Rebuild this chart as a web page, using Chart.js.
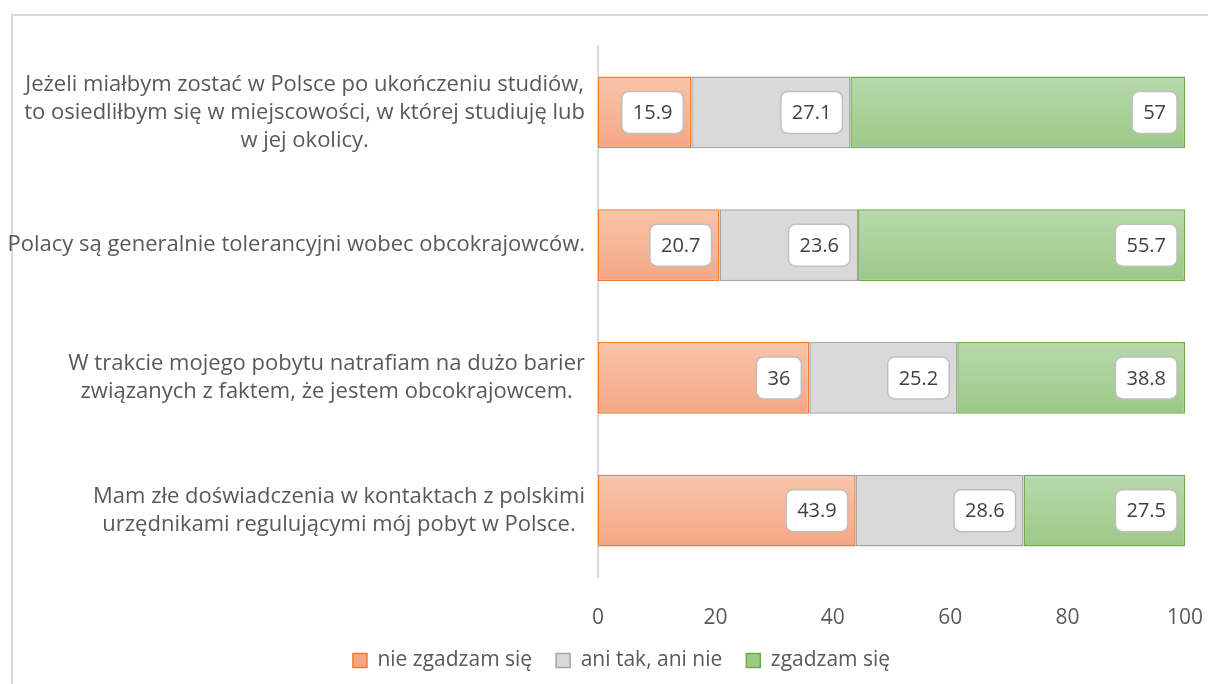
<!DOCTYPE html>
<html>
<head>
<meta charset="utf-8">
<script src="https://cdn.jsdelivr.net/npm/chart.js@4.4.1/dist/chart.umd.min.js"></script>
<style>
  html, body { margin: 0; padding: 0; background: #fff; overflow: hidden; }
  #frame { position: absolute; left: 11px; top: 14px; width: 1300px; height: 800px; border: 2px solid #d9d9d9; }
  #wrap { position: absolute; left: 0; top: 0; width: 1208px; height: 684px; }
</style>
</head>
<body>
<div id="frame"></div>
<div id="wrap"><canvas id="chart" width="1208" height="684"></canvas></div>
<script>
// Kategorie (pytania) i wartości w procentach
const categories = [
    ['Jeżeli miałbym zostać w Polsce po ukończeniu studiów,', 'to osiedliłbym się w miejscowości, w której studiuję lub', 'w jej okolicy.'],
    ['Polacy są generalnie tolerancyjni wobec obcokrajowców.'],
    ['W trakcie mojego pobytu natrafiam na dużo barier', 'związanych z faktem, że jestem obcokrajowcem.'],
    ['Mam złe doświadczenia w kontaktach z polskimi', 'urzędnikami regulującymi mój pobyt w Polsce.']
];
const seriesNames = ['nie zgadzam się', 'ani tak, ani nie', 'zgadzam się'];
const disagree = [15.9, 20.7, 36, 43.9];
const neutral = [27.1, 23.6, 25.2, 28.6];
const agree = [57, 55.7, 38.8, 27.5];
const xTicks = [0, 20, 40, 60, 80, 100];

const FONT = '"Open Sans", "Noto Sans", sans-serif';
const TEXT_GRAY = '#595959';
const CAT_PCT = 0.54;

// gradient pionowy dla pojedynczego paska
function barGradient(top, bottom, flat) {
    return (context) => {
        const chart = context.chart;
        const yScale = chart.scales.y;
        if (!yScale || context.dataIndex === undefined) return flat;
        const cy = yScale.getPixelForValue(context.dataIndex);
        const half = (yScale.height / categories.length) * CAT_PCT / 2;
        if (!isFinite(cy) || !isFinite(half) || half <= 0) return flat;
        const g = chart.ctx.createLinearGradient(0, cy - half, 0, cy + half);
        g.addColorStop(0, top);
        g.addColorStop(1, bottom);
        return g;
    };
}

// etykiety kategorii: wyśrodkowane linie, blok wyrównany do prawej
const categoryLabels = {
    id: 'categoryLabels',
    afterDraw(chart) {
        const ctx = chart.ctx;
        const yScale = chart.scales.y;
        const right = chart.chartArea.left - 13;
        const lineH = 28;
        ctx.save();
        ctx.font = '22px ' + FONT;
        ctx.fillStyle = TEXT_GRAY;
        ctx.textAlign = 'center';
        ctx.textBaseline = 'middle';
        categories.forEach((lines, i) => {
            const cy = yScale.getPixelForTick(i);
            const blockW = Math.max(...lines.map(l => ctx.measureText(l).width));
            const cx = right - blockW / 2;
            const startY = cy - (lines.length - 1) * lineH / 2;
            lines.forEach((line, j) => ctx.fillText(line, cx, startY + j * lineH));
        });
        ctx.restore();
    }
};

// białe ramki z wartościami przy końcu każdego segmentu
const valueBoxes = {
    id: 'valueBoxes',
    afterDatasetsDraw(chart) {
        const ctx = chart.ctx;
        ctx.save();
        ctx.font = '20px ' + FONT;
        ctx.textAlign = 'center';
        ctx.textBaseline = 'middle';
        chart.data.datasets.forEach((ds, di) => {
            const meta = chart.getDatasetMeta(di);
            meta.data.forEach((bar, i) => {
                const text = String(ds.data[i]);
                const w = ctx.measureText(text).width + 22;
                const h = 42;
                const x = bar.x - 8 - w;
                const y = bar.y - h / 2;
                ctx.beginPath();
                ctx.roundRect(x, y, w, h, 7);
                ctx.fillStyle = '#ffffff';
                ctx.fill();
                ctx.lineWidth = 1.5;
                ctx.strokeStyle = '#bfbfbf';
                ctx.stroke();
                ctx.fillStyle = '#404040';
                ctx.fillText(text, x + w / 2, bar.y + 1);
            });
        });
        ctx.restore();
    }
};

// legenda przesunięta lekko w prawo i w górę, jak w oryginale
const legendShift = {
    id: 'legendShift',
    afterLayout(chart) {
        const lg = chart.legend;
        if (!lg) return;
        lg.left += 29;
        lg.right += 29;
        lg.top -= 3;
        lg.bottom -= 3;
    }
};

const ctx = document.getElementById('chart').getContext('2d');
new Chart(ctx, {
    type: 'bar',
    data: {
        labels: categories.map(c => c.join(' ')),
        datasets: [
            {
                label: seriesNames[0],
                data: disagree,
                backgroundColor: barGradient('#f9c4aa', '#f4a784', '#f6b899'),
                borderColor: '#ed7d31',
                borderWidth: 1.5,
                borderSkipped: false
            },
            {
                label: seriesNames[1],
                data: neutral,
                backgroundColor: '#d9d9d9',
                borderColor: '#a5a5a5',
                borderWidth: 1.5,
                borderSkipped: false
            },
            {
                label: seriesNames[2],
                data: agree,
                backgroundColor: barGradient('#b8d9ac', '#9cc986', '#aad199'),
                borderColor: '#70ad47',
                borderWidth: 1.5,
                borderSkipped: false
            }
        ]
    },
    options: {
        indexAxis: 'y',
        responsive: false,
        animation: false,
        layout: { padding: { top: 46, right: 23, bottom: 0, left: 0 } },
        datasets: { bar: { barPercentage: 1, categoryPercentage: CAT_PCT } },
        scales: {
            x: {
                stacked: true,
                min: 0,
                max: 100,
                afterBuildTicks: (scale) => { scale.ticks = xTicks.map(v => ({ value: v })); },
                afterFit: (scale) => {
                    scale.height = 52;
                    scale.paddingRight = 0;
                },
                grid: { display: false },
                border: { display: false },
                ticks: { color: TEXT_GRAY, padding: 20, font: { size: 21, family: FONT } }
            },
            y: {
                stacked: true,
                afterFit: (scale) => { scale.width = 598; },
                grid: { display: false },
                border: { display: true, color: '#d9d9d9', width: 2 },
                ticks: { display: false }
            }
        },
        plugins: {
            legend: {
                position: 'bottom',
                labels: {
                    color: TEXT_GRAY,
                    boxWidth: 14,
                    boxHeight: 14,
                    padding: 24,
                    font: { size: 21, family: FONT }
                }
            },
            tooltip: { enabled: false }
        }
    },
    plugins: [categoryLabels, valueBoxes, legendShift]
});
</script>
</body>
</html>
